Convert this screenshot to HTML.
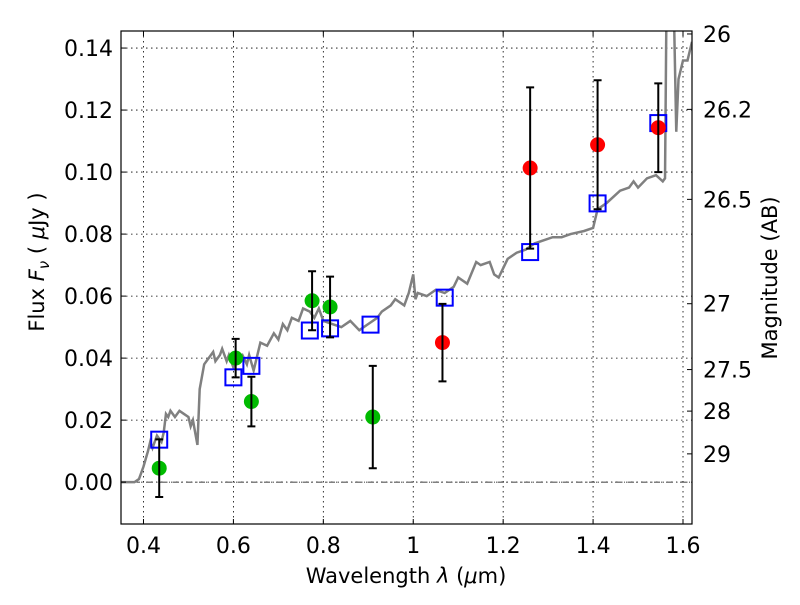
<!DOCTYPE html>
<html><head><meta charset="utf-8"><style>
body{margin:0;background:#fff;}
svg{font-family:"DejaVu Sans","Liberation Sans",sans-serif;}
</style></head><body>
<svg id="chart" width="800" height="600" xmlns="http://www.w3.org/2000/svg">
<rect width="800" height="600" fill="#fff"/>
<g id="grid"></g>
<g id="spec"></g>
<g id="marks"></g>
<g id="axes"></g>
<text x="406" y="583" font-size="21" text-anchor="middle">Wavelength  <tspan font-style="italic">λ</tspan> (<tspan font-style="italic">μ</tspan>m)</text>
<text transform="translate(44,262) rotate(-90)" font-size="21" text-anchor="middle">Flux  <tspan font-style="italic">F</tspan><tspan font-style="italic" font-size="15" dy="5">ν</tspan><tspan dy="-5">  (  </tspan><tspan font-style="italic">μ</tspan>Jy )</text>
<text transform="translate(777,278) rotate(-90)" font-size="21" text-anchor="middle">Magnitude (AB)</text>
</svg>
<script>
const xTicks=[0.4,0.6,0.8,1.0,1.2,1.4,1.6];
const xTickLabels=["0.4","0.6","0.8","1","1.2","1.4","1.6"];
const yTicks=[0,0.02,0.04,0.06,0.08,0.10,0.12,0.14];
const yTickLabels=["0.00","0.02","0.04","0.06","0.08","0.10","0.12","0.14"];
const magTicks=[26,26.2,26.5,27,27.5,28,29];
const magTickLabels=["26","26.2","26.5","27","27.5","28","29"];
const specWave=[0.35,0.38,0.39,0.40,0.41,0.415,0.42,0.43,0.44,0.445,0.45,0.455,0.46,0.47,0.48,0.49,0.50,0.505,0.51,0.52,0.525,0.535,0.545,0.555,0.56,0.57,0.575,0.585,0.59,0.60,0.61,0.62,0.63,0.635,0.645,0.655,0.66,0.675,0.69,0.70,0.71,0.72,0.73,0.745,0.755,0.77,0.78,0.79,0.80,0.82,0.84,0.86,0.88,0.90,0.92,0.93,0.95,0.96,0.98,0.99,1.0,1.005,1.01,1.03,1.05,1.07,1.09,1.10,1.12,1.14,1.15,1.17,1.18,1.19,1.21,1.23,1.25,1.27,1.29,1.31,1.33,1.35,1.38,1.40,1.41,1.43,1.46,1.48,1.49,1.50,1.52,1.54,1.555,1.56,1.563,1.565,1.575,1.58,1.585,1.59,1.60,1.61,1.62];
const specFlux=[0,0,0.001,0.005,0.01,0.013,0.011,0.015,0.013,0.016,0.022,0.021,0.023,0.021,0.023,0.022,0.021,0.018,0.020,0.012,0.030,0.038,0.040,0.042,0.039,0.041,0.043,0.039,0.041,0.037,0.040,0.041,0.038,0.041,0.036,0.042,0.045,0.044,0.048,0.046,0.051,0.049,0.053,0.052,0.056,0.055,0.053,0.056,0.052,0.051,0.050,0.052,0.049,0.051,0.053,0.055,0.057,0.059,0.057,0.061,0.067,0.059,0.061,0.060,0.062,0.061,0.063,0.066,0.064,0.071,0.070,0.071,0.067,0.066,0.072,0.074,0.075,0.077,0.078,0.079,0.079,0.080,0.081,0.082,0.088,0.090,0.094,0.095,0.097,0.095,0.098,0.099,0.097,0.098,0.15,0.15,0.15,0.15,0.113,0.13,0.136,0.136,0.142];
const obsWave=[0.435,0.605,0.64,0.775,0.815,0.91,1.065,1.26,1.41,1.545];
const obsFlux=[0.0045,0.040,0.026,0.0585,0.0565,0.021,0.045,0.1013,0.1088,0.1143];
const obsErr=[0.0093,0.0062,0.008,0.0095,0.0098,0.0165,0.0125,0.026,0.0208,0.0143];
const obsColor=["#00bb00","#00bb00","#00bb00","#00bb00","#00bb00","#00bb00","#ff0000","#ff0000","#ff0000","#ff0000"];
const modelWave=[0.435,0.60,0.64,0.77,0.815,0.905,1.07,1.26,1.41,1.545];
const modelFlux=[0.0137,0.0338,0.0375,0.0489,0.0496,0.0508,0.0595,0.0742,0.0899,0.1158];

const L=121,R=692,T=31,B=524,X0=0.35,X1=1.62,Y0=-0.0135,Y1=0.1455;
const sx=v=>L+(v-X0)/(X1-X0)*(R-L);
const sy=v=>B-(v-Y0)/(Y1-Y0)*(B-T);
const NS="http://www.w3.org/2000/svg";
function mk(tag,attrs,parent){const e=document.createElementNS(NS,tag);for(const k in attrs)e.setAttribute(k,attrs[k]);parent.appendChild(e);return e;}
const grid=document.getElementById('grid'),axes=document.getElementById('axes'),spec=document.getElementById('spec'),marks=document.getElementById('marks');
xTicks.forEach((t,i)=>{const x=sx(t);
 const g=mk('line',{x1:x,x2:x,y1:T,y2:B,stroke:'#000','stroke-width':0.8,'stroke-dasharray':'1.5,3.5'},grid);
 
 
 mk('line',{x1:x,x2:x,y1:B,y2:B-5,stroke:'#000'},axes);
 mk('line',{x1:x,x2:x,y1:T,y2:T+5,stroke:'#000'},axes);
 const tx=mk('text',{x:x,y:B+29,'font-size':22,'text-anchor':'middle'},axes);tx.textContent=xTickLabels[i];
 
 
});
yTicks.forEach((t,i)=>{const y=sy(t);
 const g=mk('line',{x1:L,x2:R,y1:y,y2:y,stroke:'#000','stroke-width':0.8,'stroke-dasharray':'1.5,3.5'},grid);
 
 
 mk('line',{x1:L,x2:L+5,y1:y,y2:y,stroke:'#000'},axes);
 const tx=mk('text',{x:L-8,y:y+8,'font-size':22,'text-anchor':'end'},axes);tx.textContent=yTickLabels[i];
 
 
});
magTicks.forEach((m,i)=>{const y=sy(Math.pow(10,(23.9-m)/2.5));
 mk('line',{x1:R,x2:R-5,y1:y,y2:y,stroke:'#000'},axes);
 const tx=mk('text',{x:R+11,y:y+8,'font-size':22},axes);tx.textContent=magTickLabels[i];
 
 
});
mk('line',{x1:L,x2:R,y1:sy(0),y2:sy(0),stroke:'#000','stroke-width':0.8,'stroke-dasharray':'6,3,1,3'},grid);
mk('rect',{x:L,y:T,width:R-L,height:B-T,fill:'none',stroke:'#000','stroke-width':1.2},axes);
const cp=document.createElementNS(NS,'clipPath');cp.setAttribute('id','clip');document.querySelector('svg').appendChild(cp);
mk('rect',{x:L,y:T,width:R-L,height:B-T},cp);
const p=mk('polyline',{points:specWave.map((w,i)=>sx(w)+','+sy(specFlux[i])).join(' '),fill:'none',stroke:'#808080','stroke-width':2.5,'clip-path':'url(#clip)'},spec);


modelWave.forEach((w,i)=>{const r=mk('rect',{x:sx(w)-8,y:sy(modelFlux[i])-8,width:16,height:16,fill:'none',stroke:'#0000ff','stroke-width':2},marks);
 
 
});
obsWave.forEach((w,i)=>{const x=sx(w),y=sy(obsFlux[i]);
 const c=mk('circle',{cx:x,cy:y,r:7.5,fill:obsColor[i]},marks);
 
 
 const y1=sy(obsFlux[i]+obsErr[i]),y2=sy(obsFlux[i]-obsErr[i]);
 const e=mk('path',{d:`M${x},${y1}V${y2}M${x-4},${y1}H${x+4}M${x-4},${y2}H${x+4}`,stroke:'#000','stroke-width':2,fill:'none'},marks);
 
 
});
</script>
</body></html>
